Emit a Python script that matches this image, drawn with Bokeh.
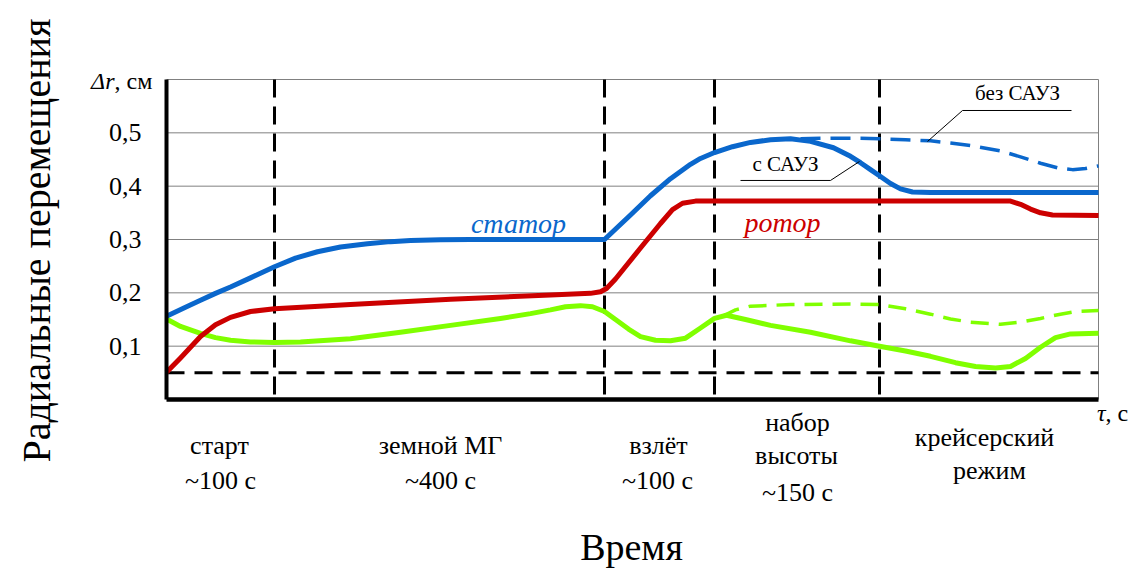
import math
from bokeh.plotting import figure
from bokeh.models import Range1d, FixedTicker, Label, LinearAxis
from bokeh.embed import file_html
from bokeh.resources import INLINE

# ---- data (x: conventional time units along the cycle, y: radial displacement, cm) ----
stator_x = [0, 19, 34, 49, 64, 84, 108, 129, 151, 174, 201, 224, 244, 274, 304, 438, 464, 484,
            504, 524, 534, 548, 566, 584, 604, 624, 644, 667, 684, 694, 704, 714, 724, 734, 746, 764, 932]
stator_y = [0.156, 0.173, 0.186, 0.199, 0.211, 0.228, 0.249, 0.265, 0.277, 0.286, 0.292, 0.296, 0.298,
            0.2995, 0.300, 0.300, 0.346, 0.382, 0.414, 0.441, 0.452, 0.463, 0.474, 0.482, 0.487, 0.489,
            0.484, 0.472, 0.456, 0.444, 0.431, 0.418, 0.405, 0.395, 0.389, 0.388, 0.388]

stator_noctl_x = [634, 664, 694, 713, 739, 764, 784, 804, 834, 854, 874, 892, 906, 919, 932]
stator_noctl_y = [0.489, 0.490, 0.490, 0.489, 0.487, 0.485, 0.481, 0.476, 0.466, 0.455, 0.443,
                  0.434, 0.431, 0.433, 0.438]

rotor_x = [0, 14, 34, 49, 64, 84, 108, 184, 284, 384, 424, 434, 440, 449, 474, 494, 506, 516, 529,
           844, 854, 864, 874, 886, 932]
rotor_y = [0.051, 0.078, 0.118, 0.140, 0.154, 0.165, 0.170, 0.178, 0.188, 0.196, 0.199, 0.202, 0.208,
           0.226, 0.284, 0.330, 0.356, 0.368, 0.372, 0.372, 0.366, 0.357, 0.350, 0.346, 0.345]

gap_x = [0, 14, 34, 49, 64, 84, 108, 134, 184, 234, 284, 334, 364, 384, 399, 414, 426, 438, 449, 462,
         474, 489, 504, 519, 534, 548, 560, 579, 604, 644, 684, 713, 739, 764, 789, 809, 829, 844, 859,
         874, 889, 904, 932]
gap_y = [0.151, 0.137, 0.124, 0.116, 0.111, 0.108, 0.107, 0.108, 0.114, 0.126, 0.139, 0.152, 0.161,
         0.168, 0.174, 0.176, 0.174, 0.165, 0.150, 0.132, 0.118, 0.111, 0.110, 0.115, 0.134, 0.152,
         0.158, 0.150, 0.139, 0.126, 0.110, 0.100, 0.091, 0.081, 0.069, 0.062, 0.059, 0.062, 0.077,
         0.098, 0.116, 0.123, 0.124]

gap_noctl_x = [556, 569, 584, 624, 684, 713, 739, 764, 784, 804, 834, 854, 874, 894, 909, 932]
gap_noctl_y = [0.156, 0.168, 0.175, 0.178, 0.179, 0.178, 0.170, 0.160, 0.151, 0.145, 0.141, 0.145,
               0.152, 0.160, 0.165, 0.167]

x_end = 932                      # end of the time axis (conventional units)
y_top = 0.6                      # top of the displacement scale, cm
phase_bounds = [108, 438, 548, 713]
limit_level = 0.05

ytick_vals = [0.1, 0.2, 0.3, 0.4, 0.5]
ytick_labels = ["0,1", "0,2", "0,3", "0,4", "0,5"]
grid_vals = [0.1, 0.2, 0.3, 0.4, 0.5, 0.6]

phase_lines = [
    ("старт", 53, -0.0863), ("~100 с", 54, -0.1519),
    ("земной МГ", 274, -0.0863), ("~400 с", 274, -0.1519),
    ("взлёт", 492, -0.0863), ("~100 с", 491, -0.1519),
    ("набор", 631, -0.0431), ("высоты", 630, -0.105), ("~150 с", 631, -0.1744),
    ("крейсерский", 818, -0.0713), ("режим", 823, -0.1331),
]

BLUE = "#0a67cc"
RED = "#cc0000"
GREEN = "#80ff00"
GRID = "#808080"
SERIF = "Liberation Serif"

W, H = 1130, 568
PX_PER_CM = 533.33
p = figure(width=W, height=H,
           x_range=Range1d(-166, W - 166),
           y_range=Range1d((399 - H) / PX_PER_CM, 399 / PX_PER_CM),
           x_axis_type=None, y_axis_type=None,
           output_backend="svg", toolbar_location=None,
           min_border_left=0, min_border_right=0, min_border_top=0, min_border_bottom=0)
p.background_fill_color = "white"
p.border_fill_color = "white"
p.outline_line_color = None
p.grid.visible = False

# grid lines and frame border
n = len(grid_vals)
p.segment(x0=[0] * n, y0=grid_vals, x1=[x_end] * n, y1=grid_vals, line_color=GRID, line_width=1)
p.segment(x0=[x_end], y0=[0], x1=[x_end], y1=[y_top], line_color=GRID, line_width=1)

# phase boundaries and lower limit
m = len(phase_bounds)
p.segment(x0=phase_bounds, y0=[y_top] * m, x1=phase_bounds, y1=[0] * m,
          line_color="black", line_width=3, line_dash="18 9")
p.segment(x0=[0], y0=[limit_level], x1=[x_end], y1=[limit_level],
          line_color="black", line_width=3, line_dash="18 10")

# curves
p.line(stator_noctl_x, stator_noctl_y, line_color=BLUE, line_width=3.5, line_dash="20 10")
p.line(gap_noctl_x, gap_noctl_y, line_color=GREEN, line_width=3.5, line_dash="18 10")
p.line(gap_x, gap_y, line_color=GREEN, line_width=5, line_join="round")
p.line(rotor_x, rotor_y, line_color=RED, line_width=5, line_join="round")
p.line(stator_x, stator_y, line_color=BLUE, line_width=5, line_join="round")

# leader lines
p.line([574, 664, 693], [0.4107, 0.4107, 0.4463], line_color="black", line_width=1)
p.line([905, 796, 761], [0.5419, 0.5419, 0.4838], line_color="black", line_width=1)

# axes placed on the data origin
yax = LinearAxis(fixed_location=0, bounds=(0, y_top), ticker=FixedTicker(ticks=ytick_vals),
                 major_label_overrides=dict(zip(ytick_vals, ytick_labels)))
yax.major_label_text_font = SERIF
yax.major_label_text_font_size = "26px"
yax.major_label_text_color = "black"
yax.major_label_standoff = 19
yax.major_tick_line_color = None
yax.minor_tick_line_color = None
yax.axis_line_width = 4
yax.axis_line_color = "black"
p.add_layout(yax, "left")

xax = LinearAxis(fixed_location=0, bounds=(0, x_end), ticker=FixedTicker(ticks=[]))
xax.major_label_text_font_size = "0px"
xax.major_tick_line_color = None
xax.minor_tick_line_color = None
xax.axis_line_width = 4.5
xax.axis_line_color = "black"
p.add_layout(xax, "below")


def lab(text, x, y, size, color="black", style="normal", align="center", angle=0.0):
    p.add_layout(Label(x=x, y=y, text=text, text_font=SERIF, text_font_size=size,
                       text_color=color, text_font_style=style, text_align=align,
                       text_baseline="middle", angle=angle))


lab("статор", 352, 0.330, "28px", BLUE, "italic")
lab("ротор", 616, 0.332, "28px", RED, "italic")
lab("с САУЗ", 619, 0.4425, "21px")
lab("без САУЗ", 851, 0.5738, "21px")

lab("Δr", -52, 0.598, "24px", style="italic", align="right")
lab(", см", -52, 0.598, "24px", align="left")

for t, x, y in phase_lines:
    lab(t, x, y, "26px")

lab("τ", 939, -0.02625, "24px", style="italic", align="right")
lab(", с", 939, -0.02625, "24px", align="left")

lab("Время", 465, -0.276, "38px")
lab("Радиальные перемещения", -130, 0.298, "40px", angle=math.pi / 2)

open("out.html", "w").write(file_html(p, INLINE))
